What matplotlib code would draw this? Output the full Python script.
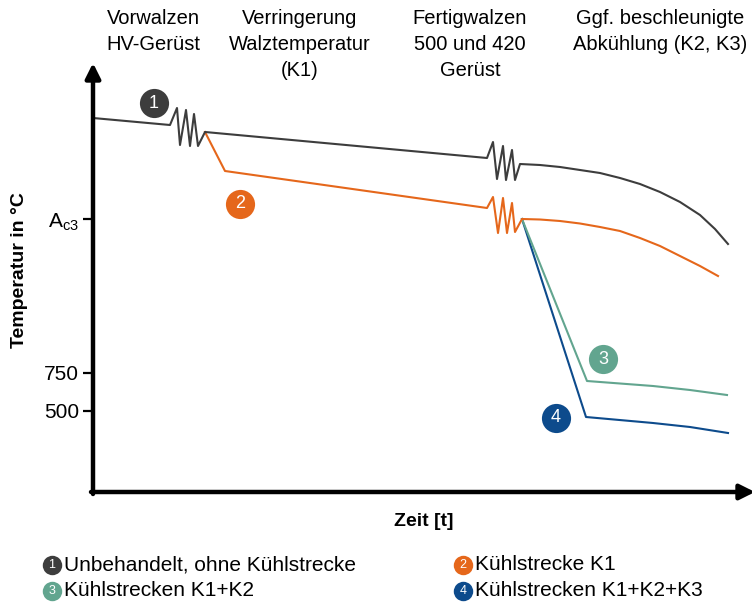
import numpy as np
import matplotlib
matplotlib.use("Agg")
import matplotlib.pyplot as plt

plt.rcParams['font.family'] = ['Liberation Sans', 'DejaVu Sans']

# Schematische Werte (Zeit / Temperatur in beliebigen Einheiten)
t1 = [0, 77, 84, 87, 93, 97, 101, 105, 112, 394, 400, 404, 410, 413, 419, 422, 427,
      447, 467, 487, 507, 527, 547, 567, 587, 607, 622, 635]
T1 = [374, 367, 384, 347, 382, 346, 378, 346, 360, 334, 350, 313, 346, 312, 342, 312, 328,
      327, 325, 322, 319, 314, 308, 300, 290, 277, 263, 248]

t2 = [112, 132, 394, 400, 405, 410, 414, 419, 422, 429,
      447, 467, 487, 507, 527, 547, 567, 587, 607, 625]
T2 = [360, 321, 284, 295, 259, 294, 259, 289, 260, 273,
      272.5, 271, 268.5, 265, 261, 254, 246, 236, 226, 216]

t3 = [429, 494, 560, 597, 634]
T3 = [273, 111, 106, 102, 97]

t4 = [429, 493, 560, 597, 635]
T4 = [273, 75, 69, 65, 59]

farben = ['#3d3d3d', '#e5671b', '#62a58f', '#0d4b8c']
kreis_t = [61, 147, 510, 463]
kreis_T = [389, 288, 133, 74]

ytick_pos = [273, 119, 81]
ytick_lab = [r'A$_\mathregular{c3}$', '750', '500']

legende = ['Unbehandelt, ohne Kühlstrecke', 'Kühlstrecke K1',
           'Kühlstrecken K1+K2', 'Kühlstrecken K1+K2+K3']

kopf_x = [153, 300, 470, 660]
kopf = [['Vorwalzen', 'HV-Gerüst'],
        ['Verringerung', 'Walztemperatur', '(K1)'],
        ['Fertigwalzen', '500 und 420', 'Gerüst'],
        ['Ggf. beschleunigte', 'Abkühlung (K2, K3)']]

W, H = 752, 604
fig = plt.figure(figsize=(W / 100, H / 100), dpi=100)
ax = fig.add_axes([93 / W, 112 / H, 660 / W, 427 / H])
ax.set_xlim(0, 660)
ax.set_ylim(0, 427)
for s in ax.spines.values():
    s.set_visible(False)

lw = 1.5
ax.plot(t4, T4, color=farben[3], lw=lw)
ax.plot(t3, T3, color=farben[2], lw=lw)
ax.plot(t2, T2, color=farben[1], lw=lw)
ax.plot(t1, T1, color=farben[0], lw=lw)

for i in range(4):
    ax.plot(kreis_t[i], kreis_T[i], 'o', ms=21, color=farben[i], mec='none', clip_on=False)
    ax.text(kreis_t[i], kreis_T[i], str(i + 1), color='white', fontsize=13,
            ha='center', va='center')

# Achsen mit Pfeilen
ax.annotate('', xy=(0, 429), xytext=(0, -2), annotation_clip=False,
            arrowprops=dict(arrowstyle='-|>,head_length=0.9,head_width=0.45', lw=3.2,
                            color='black', shrinkA=0, shrinkB=0))
ax.annotate('', xy=(662, 0), xytext=(-2, 0), annotation_clip=False,
            arrowprops=dict(arrowstyle='-|>,head_length=0.9,head_width=0.45', lw=3.2,
                            color='black', shrinkA=0, shrinkB=0))

ax.set_xticks([])
ax.set_yticks(ytick_pos)
ax.set_yticklabels(ytick_lab, fontsize=15)
ax.tick_params(axis='y', direction='out', length=7, width=1.6, pad=3)

fig.text(20 / W, 1 - 270 / H, 'Temperatur in °C', rotation=90, fontsize=14,
         fontweight='bold', ha='center', va='center')
fig.text(424 / W, 1 - 522 / H, 'Zeit [t]', fontsize=14, fontweight='bold',
         ha='center', va='center')

for x, lines in zip(kopf_x, kopf):
    for j, txt in enumerate(lines):
        fig.text(x / W, 1 - (18 + 26 * j) / H, txt, fontsize=14.5,
                 ha='center', va='center')

# Legende
leg_x = [52, 463, 52, 463]
leg_y = [565, 565, 591, 591]
for i in range(4):
    fig.lines.append(plt.Line2D([leg_x[i] / W], [1 - leg_y[i] / H], marker='o', ms=14,
                                color=farben[i], mec='none', transform=fig.transFigure))
    fig.text(leg_x[i] / W, 1 - leg_y[i] / H, str(i + 1), color='white', fontsize=9,
             ha='center', va='center')
    fig.text((leg_x[i] + 12) / W, 1 - leg_y[i] / H, legende[i], fontsize=15,
             ha='left', va='center')

fig.savefig('out.png', dpi=100)
